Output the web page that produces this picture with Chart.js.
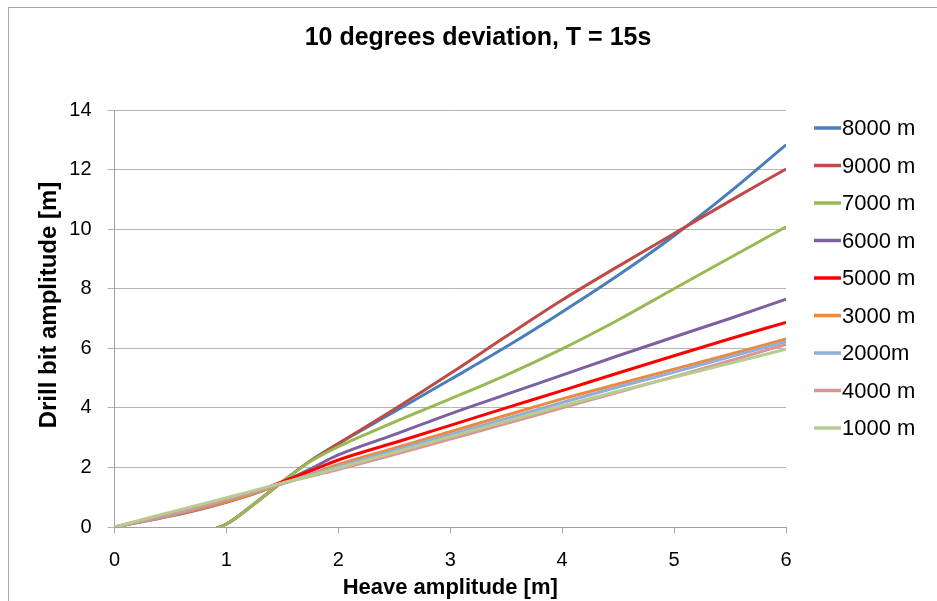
<!DOCTYPE html>
<html>
<head>
<meta charset="utf-8">
<title>10 degrees deviation, T = 15s</title>
<script src="https://cdn.jsdelivr.net/npm/chart.js@4.4.1/dist/chart.umd.min.js"></script>
<style>
  html, body { margin: 0; padding: 0; background: #fff; overflow: hidden; }
  canvas { display: block; }
</style>
</head>
<body>
<canvas id="driftChart" width="937" height="601"></canvas>
<script>
// heave amplitude [m] on the x axis
const heave = [0, 0.25, 0.5, 0.75, 1, 1.25, 1.5, 1.75, 2, 2.5, 3, 3.5, 4, 4.5, 5, 5.5, 6];

// legend order as in the original sheet
const depthLabels = ['8000 m', '9000 m', '7000 m', '6000 m', '5000 m', '3000 m', '2000m', '4000 m', '1000 m'];
const chartTitle = '10 degrees deviation, T = 15s';
const yTitle = 'Drill bit amplitude [m]';

// drill bit amplitude [m]
const bit8000 = [0, -0.12, -0.22, -0.18, 0.1, 0.78, 1.52, 2.22, 2.8, 3.87, 4.95, 6.05, 7.22, 8.45, 9.78, 11.25, 12.83];
const bit9000 = [0, -0.12, -0.22, -0.18, 0.1, 0.78, 1.52, 2.22, 2.8, 3.95, 5.15, 6.4, 7.62, 8.75, 9.85, 10.95, 12.02];
const bit7000 = [0, -0.12, -0.22, -0.18, 0.1, 0.78, 1.52, 2.2, 2.7, 3.52, 4.3, 5.1, 5.98, 6.95, 8.0, 9.04, 10.08];
const bit6000 = [0, 0.18, 0.37, 0.58, 0.83, 1.12, 1.5, 1.95, 2.42, 3.1, 3.8, 4.45, 5.1, 5.75, 6.38, 7.0, 7.65];
const bit5000 = [0, 0.2, 0.4, 0.62, 0.88, 1.16, 1.52, 1.88, 2.25, 2.83, 3.41, 4.0, 4.58, 5.17, 5.75, 6.32, 6.87];
const bit3000 = [0, 0.18, 0.38, 0.6, 0.85, 1.13, 1.46, 1.77, 2.1, 2.65, 3.2, 3.75, 4.3, 4.8, 5.3, 5.8, 6.31];
const bit2000 = [0, 0.2, 0.42, 0.66, 0.92, 1.18, 1.46, 1.75, 2.03, 2.57, 3.1, 3.64, 4.18, 4.7, 5.2, 5.71, 6.22];
const bit4000 = [0, 0.22, 0.45, 0.69, 0.94, 1.2, 1.46, 1.7, 1.93, 2.43, 2.95, 3.47, 4.0, 4.52, 5.05, 5.58, 6.13];
const bit1000 = [0, 0.25, 0.5, 0.74, 0.98, 1.23, 1.48, 1.72, 1.98, 2.5, 3.03, 3.55, 4.07, 4.56, 5.03, 5.5, 5.97];

const allSeries = [bit8000, bit9000, bit7000, bit6000, bit5000, bit3000, bit2000, bit4000, bit1000];
const lineColors = ['#4A7EBB', '#BE4B48', '#98B954', '#7D60A0', '#FF0000', '#EB8A3F', '#92ADDA', '#D99694', '#B6CC90'];

const FONT = "'Liberation Sans', Arial, sans-serif";
Chart.defaults.font.family = FONT;
Chart.defaults.color = '#000';

// title, y title, legend and outer frame drawn by hand so they sit like the excel ones
const excelDecor = {
    id: 'excelDecor',
    afterDraw(chart) {
        const ctx = chart.ctx;
        ctx.save();
        ctx.fillStyle = '#000';
        ctx.font = 'bold 25px ' + FONT;
        ctx.textAlign = 'center';
        ctx.textBaseline = 'middle';
        ctx.fillText(chartTitle, 478, 38);

        ctx.save();
        ctx.translate(49, 305);
        ctx.rotate(-Math.PI / 2);
        ctx.font = 'bold 24px ' + FONT;
        ctx.fillText(yTitle, 0, 0);
        ctx.restore();

        ctx.font = '22px ' + FONT;
        ctx.textAlign = 'left';
        chart.data.datasets.forEach((ds, i) => {
            const y = 128 + i * 37.5;
            ctx.strokeStyle = ds.borderColor;
            ctx.lineWidth = 3.5;
            ctx.beginPath();
            ctx.moveTo(814, y);
            ctx.lineTo(841, y);
            ctx.stroke();
            ctx.fillText(ds.label, 842, y + 1);
        });
        ctx.strokeStyle = '#A6A6A6';
        ctx.lineWidth = 1;
        ctx.strokeRect(8.5, 7.5, 2000, 2000);
        ctx.restore();
    }
};

const datasets = allSeries.map((vals, i) => ({
    label: depthLabels[i],
    data: vals.map((v, k) => ({ x: heave[k], y: v })),
    borderColor: lineColors[i],
    backgroundColor: lineColors[i],
    borderWidth: 3,
    pointRadius: 0,
    fill: false,
    cubicInterpolationMode: 'monotone',
    order: allSeries.length - i   // later series painted on top, like excel
}));

new Chart(document.getElementById('driftChart'), {
    type: 'line',
    data: { datasets },
    options: {
        responsive: false,
        animation: false,
        layout: { padding: { left: 0, top: 110, right: 151, bottom: 0 } },
        plugins: {
            legend: { display: false },
            tooltip: { enabled: false },
            title: { display: false }
        },
        scales: {
            x: {
                type: 'linear',
                min: 0,
                max: 6,
                afterFit: s => { s.height = 74; },
                ticks: { stepSize: 1, font: { size: 20 }, padding: 15 },
                grid: { drawOnChartArea: false, tickLength: 6, color: '#A0A0A0' },
                border: { color: '#A0A0A0' },
                title: {
                    display: true,
                    text: 'Heave amplitude [m]',
                    font: { size: 22, weight: 'bold' },
                    padding: { top: 0, bottom: 0 }
                }
            },
            y: {
                min: 0,
                max: 14,
                afterFit: s => { s.width = 114.5; },
                ticks: { stepSize: 2, font: { size: 20 }, padding: 16 },
                grid: { color: '#B4B4B4', tickLength: 7 },
                border: { color: '#A0A0A0' },
                title: { display: false }
            }
        }
    },
    plugins: [excelDecor]
});
</script>
</body>
</html>
